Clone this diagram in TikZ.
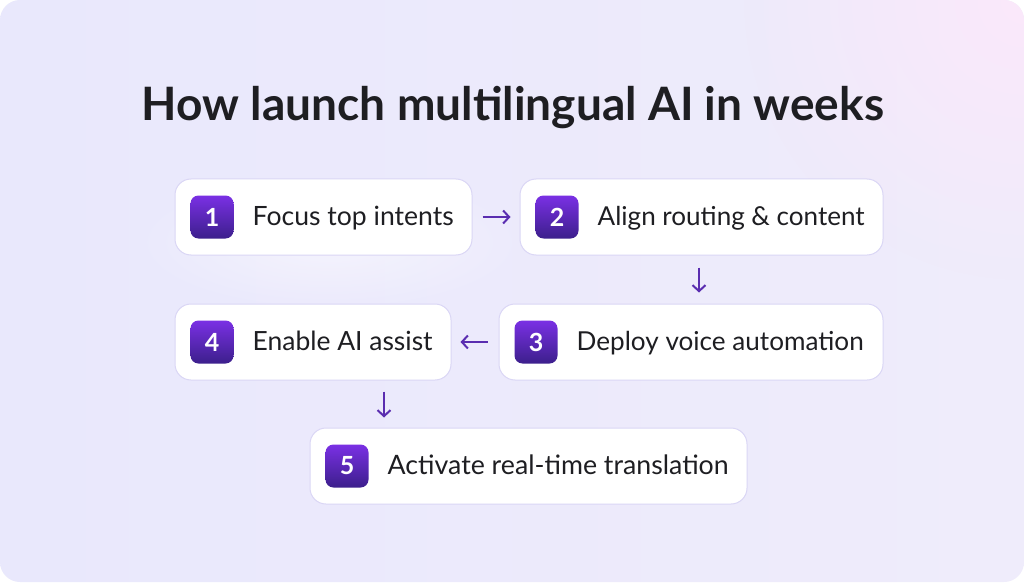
\documentclass[tikz,border=0pt]{standalone}
\usepackage{fontspec}
\setmainfont{Lato}
\usetikzlibrary{arrows.meta,calc,fadings}
\tikzfading[name=softfade, inner color=transparent!0, outer color=transparent!100]
\definecolor{bgA}{HTML}{E9E8FC}
\definecolor{bgB}{HTML}{EFECFB}
\definecolor{bgPink}{HTML}{FBE8FA}
\definecolor{boxline}{HTML}{DAD6F5}
\definecolor{txt}{HTML}{1E1E22}
\definecolor{arr}{HTML}{5A2DB0}
\definecolor{bdTop}{HTML}{7A30E4}
\definecolor{bdBot}{HTML}{3C1F8C}
\tikzset{
  stepbox/.style={rectangle, rounded corners=16pt, fill=white, draw=boxline, line width=1pt, minimum height=76pt, inner sep=0pt},
  badge/.style={rectangle, rounded corners=8pt, minimum width=43pt, minimum height=43pt, inner sep=0pt, top color=bdTop, bottom color=bdBot, draw=none, text=white, font=\fontsize{25}{25}\selectfont\bfseries},
  label/.style={anchor=base west, inner sep=0pt, text=txt},
  flow/.style={draw=arr, line width=2pt, -{Straight Barb[length=6pt,width=13pt,line width=2pt]}}
}
\newcommand{\itemtext}[2]{\resizebox{#1}{!}{\fontsize{24}{24}\selectfont #2}}
\begin{document}
\begin{tikzpicture}[x=1pt,y=1pt]
\useasboundingbox (0,0) rectangle (1024,582);
\fill[white] (0,0) rectangle (1024,582);
\shade[rounded corners=20pt, left color=bgA, right color=bgB] (0,0) rectangle (1024,582);
\begin{scope}
\clip[rounded corners=20pt] (0,0) rectangle (1024,582);
\fill[bgPink, path fading=softfade] (1024,582) circle (280);
\fill[white, opacity=0.5, path fading=softfade] (330,340) ellipse (200 and 70);
\end{scope}
% title
\node[anchor=base, inner sep=0pt, text=txt] (title) at (513,461) {\resizebox{742pt}{!}{\fontsize{44}{44}\selectfont\bfseries How launch multilingual AI in weeks}};
% boxes
\node[stepbox, minimum width=297pt] (b1) at (323.5,365) {};
\node[stepbox, minimum width=363pt] (b2) at (701.5,365) {};
\node[stepbox, minimum width=384pt] (b3) at (691,240) {};
\node[stepbox, minimum width=276pt] (b4) at (313,240) {};
\node[stepbox, minimum width=437pt] (b5) at (528.5,116) {};
% badges
\node[badge] (n1) at ([xshift=37.5pt]b1.west) {1};
\node[badge] (n2) at ([xshift=37.5pt]b2.west) {2};
\node[badge] (n3) at ([xshift=37.5pt]b3.west) {3};
\node[badge] (n4) at ([xshift=37.5pt]b4.west) {4};
\node[badge] (n5) at ([xshift=37.5pt]b5.west) {5};
% labels
\node[label] (t1) at ([xshift=78pt,yshift=-8pt]b1.west) {\itemtext{201pt}{Focus top intents}};
\node[label] (t2) at ([xshift=78pt,yshift=-8pt]b2.west) {\itemtext{267pt}{Align routing \& content}};
\node[label] (t3) at ([xshift=78pt,yshift=-8pt]b3.west) {\itemtext{287pt}{Deploy voice automation}};
\node[label] (t4) at ([xshift=78pt,yshift=-8pt]b4.west) {\itemtext{180pt}{Enable AI assist}};
\node[label] (t5) at ([xshift=78pt,yshift=-8pt]b5.west) {\itemtext{341pt}{Activate real-time translation}};
% connectors
\draw[flow, shorten <=10pt, shorten >=9pt] (b1.east) -- (b2.west);
\coordinate (c2) at ([xshift=-2.5pt]b2.south);
\draw[flow, shorten <=12pt, shorten >=11pt] (c2) -- (c2 |- b3.north);
\draw[flow, shorten <=11pt, shorten >=9pt] (b3.west) -- (b4.east);
\coordinate (c4) at ([xshift=71pt]b4.south);
\draw[flow, shorten <=11pt, shorten >=10pt] (c4) -- (c4 |- b5.north);
\end{tikzpicture}
\end{document}
